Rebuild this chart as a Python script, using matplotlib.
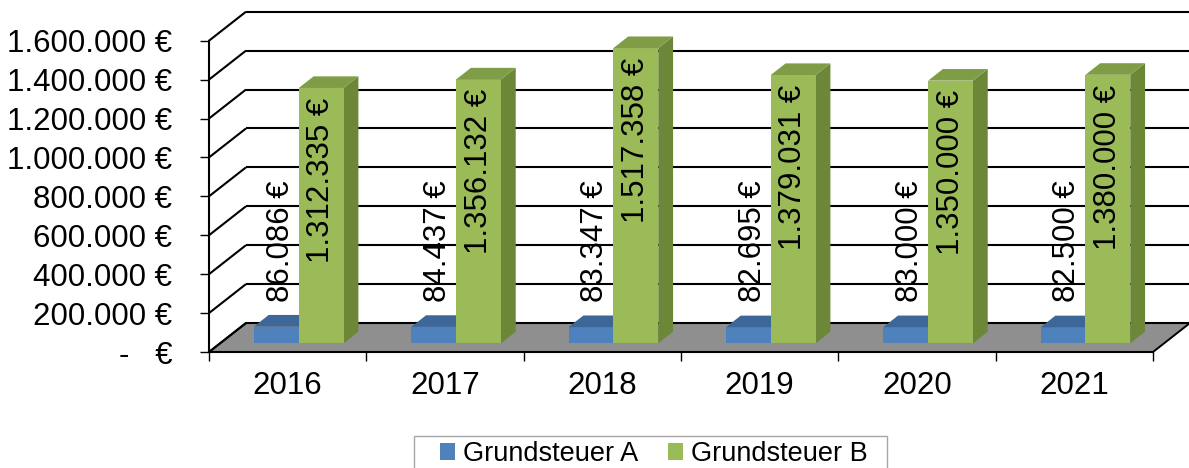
import matplotlib.pyplot as plt
import numpy as np
from matplotlib.patches import Polygon, Patch, Rectangle

plt.rcParams['font.family'] = ['Liberation Sans', 'DejaVu Sans']

# Daten
years = ['2016', '2017', '2018', '2019', '2020', '2021']
grundsteuer_a = [86086, 84437, 83347, 82695, 83000, 82500]
grundsteuer_b = [1312335, 1356132, 1517358, 1379031, 1350000, 1380000]
series_names = ['Grundsteuer A', 'Grundsteuer B']
y_ticks = [0, 200000, 400000, 600000, 800000, 1000000, 1200000,
           1400000, 1600000]

# Excel-Farben (Vorderseite, Deckel, Seite)
BLUE = ["#4f81bd", "#3d6799", "#3a5f8c"]
GREEN = ["#9bbb59", "#7f9d46", "#6b8737"]
FLOOR = "#8f8f8f"
FS = 22.5

W, H = 1189, 468
fig = plt.figure(figsize=(W / 100, H / 100), dpi=100)

# Vorderebene in Pixeln: x-Achse 209..1153, y 352 (0) .. 40.7 (1,6 Mio)
px0, px1 = 209, 1153
py0, py1 = 352, 40.7
ax = fig.add_axes([px0 / W, 1 - py0 / H, (px1 - px0) / W, (py0 - py1) / H])
n = len(years)
ymax = y_ticks[-1]
ax.set_xlim(0, n)
ax.set_ylim(0, ymax)

# Tiefenversatz (3D-Schräge) in Datenkoordinaten
cat_px = (px1 - px0) / n
eur_px = (py0 - py1) / ymax
dx = 37 / cat_px
dy = 29 / eur_px


def proj(x, v, z):
    return (x + z * dx, v + z * dy)


# Boden
floor = Polygon([proj(0, 0, 0), proj(n, 0, 0), proj(n, 0, 1), proj(0, 0, 1)],
                closed=True, fc=FLOOR, ec="black", lw=1.4, zorder=1,
                clip_on=False)
ax.add_patch(floor)

# Gitternetz: Seitenwand (schräg) + Rückwand (waagrecht)
for v in y_ticks:
    ax.plot([0, dx], [v, v + dy], color="black", lw=1.5, zorder=1.5,
            clip_on=False, solid_capstyle="butt")
    ax.plot([dx, n + dx], [v + dy, v + dy], color="black", lw=1.5,
            zorder=1.5, clip_on=False, solid_capstyle="butt")


def bar3d(xa, xb, v, cols, z0=0.3, z1=0.7, zo=3):
    side = [proj(xb, 0, z0), proj(xb, 0, z1), proj(xb, v, z1), proj(xb, v, z0)]
    front = [proj(xa, 0, z0), proj(xb, 0, z0), proj(xb, v, z0), proj(xa, v, z0)]
    top = [proj(xa, v, z0), proj(xb, v, z0), proj(xb, v, z1), proj(xa, v, z1)]
    for pts, c in ((side, cols[2]), (front, cols[0]), (top, cols[1])):
        ax.add_patch(Polygon(pts, closed=True, fc=c, ec="none", zorder=zo,
                             clip_on=False))


z0 = 0.3
bw = 0.285
for i in range(n):
    xa = i + 0.5 - bw
    bar3d(xa, i + 0.5, grundsteuer_a[i], BLUE)
    bar3d(i + 0.5, i + 0.5 + bw, grundsteuer_b[i], GREEN)
    # Beschriftungen
    xb_c, yb = proj(i + 0.5 - bw / 2, grundsteuer_a[i], z0)
    ax.annotate(f"{grundsteuer_a[i]:,.0f} €".replace(",", "."),
                (xb_c, yb), xytext=(3, 18), textcoords="offset points",
                rotation=90, ha="center", va="bottom", fontsize=FS,
                zorder=5, annotation_clip=False)
    xg_c, yg = proj(i + 0.5 + bw / 2, grundsteuer_b[i], z0)
    ax.annotate(f"{grundsteuer_b[i]:,.0f} €".replace(",", "."),
                (xg_c, yg), xytext=(0, -7), textcoords="offset points",
                rotation=90, ha="center", va="top", fontsize=FS,
                zorder=5, annotation_clip=False)

# Achsen
for s in ("top", "right"):
    ax.spines[s].set_visible(False)
for s in ("left", "bottom"):
    ax.spines[s].set_linewidth(1.5)
    ax.spines[s].set_zorder(2)
ax.patch.set_visible(False)

ax.set_yticks(y_ticks)
ax.set_yticklabels([f"{v:,.0f} €".replace(",", ".") if v else "-   €"
                    for v in y_ticks])
ax.tick_params(axis="y", length=6.5, width=1, pad=20, labelsize=FS)

ax.set_xticks(np.arange(n + 1))
ax.set_xticklabels([])
ax.set_xticks(np.arange(n) + 0.5, minor=True)
ax.set_xticklabels(years, minor=True)
ax.tick_params(axis="x", which="major", length=6.5, width=1)
ax.tick_params(axis="x", which="minor", length=0, pad=13.5, labelsize=FS)

# Legende (Rahmen wie in Excel, unten abgeschnitten)
fig.patches.append(Rectangle((414 / W, -0.05), 473 / W, 0.05 + 1 - 436 / H,
                             transform=fig.transFigure, fill=False,
                             ec="#a6a6a6", lw=1))
handles = [Patch(fc=BLUE[0], ec="none"), Patch(fc=GREEN[0], ec="none")]
leg = fig.legend(handles, series_names, loc="center",
                 bbox_to_anchor=(654 / W, 1 - 454 / H), borderaxespad=0,
                 ncol=2, fontsize=19.5, frameon=False,
                 handlelength=0.55, handleheight=0.55,
                 handletextpad=0.3, columnspacing=1.1, borderpad=0)

fig.savefig("out.png", dpi=100)
